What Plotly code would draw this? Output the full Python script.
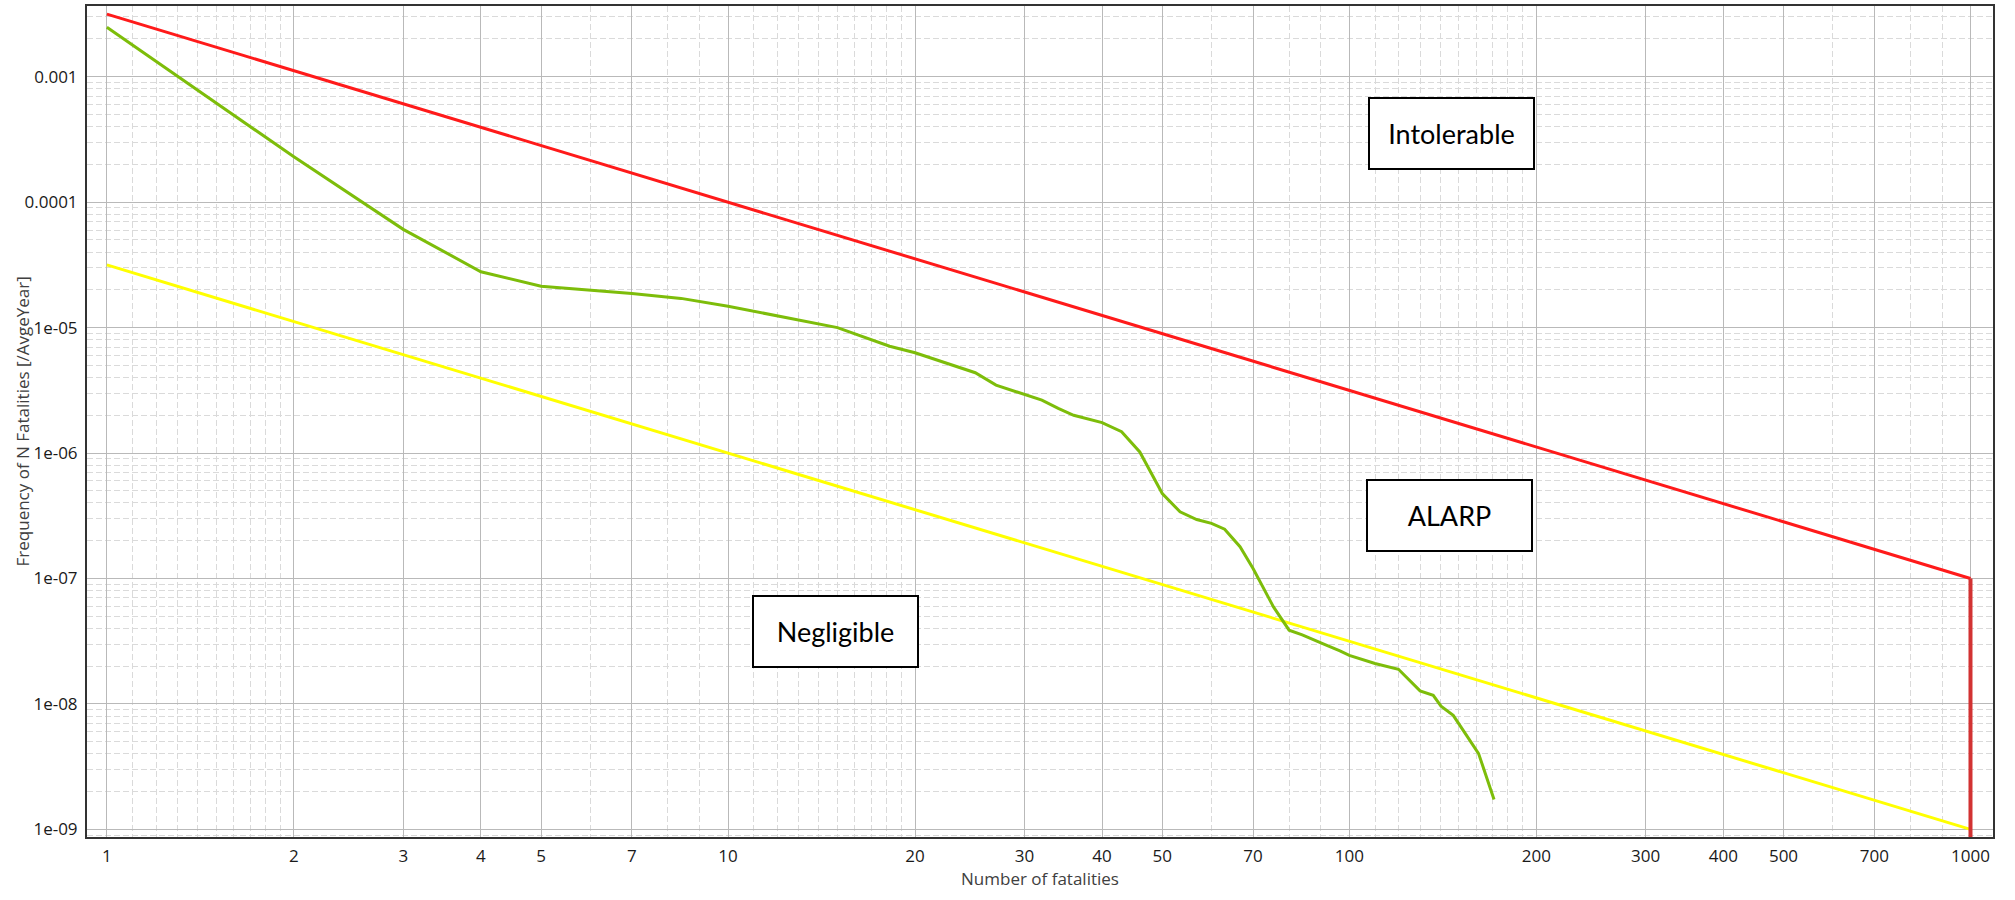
import plotly.graph_objects as go
import numpy as np

# ---- data ----
criteria_N = [1, 1000]
intolerable_F = [3.16e-3, 1e-7]
negligible_F = [3.16e-5, 1e-9]
cutoff_N = [1000, 1000]
cutoff_F = [1e-7, 1e-10]

fn_N = [1, 2, 3, 4, 5, 7, 8.4, 10, 15, 18.2, 20, 25, 27, 30, 32, 34, 36, 40, 43, 46,
        50, 53.4, 56.8, 60, 63, 66.7, 70, 75.5, 80, 84, 88, 91, 96.6, 100, 110, 120,
        130, 136.5, 140.5, 147, 155, 161.5, 171]
fn_F = [2.48e-3, 2.3e-4, 6.07e-5, 2.79e-5, 2.14e-5, 1.87e-5, 1.71e-5, 1.48e-5, 1.0e-5,
        7.1e-6, 6.3e-6, 4.37e-6, 3.48e-6, 2.93e-6, 2.64e-6, 2.27e-6, 2.0e-6, 1.75e-6,
        1.48e-6, 1.02e-6, 4.76e-7, 3.4e-7, 2.95e-7, 2.75e-7, 2.47e-7, 1.79e-7, 1.2e-7,
        5.94e-8, 3.87e-8, 3.55e-8, 3.2e-8, 3.0e-8, 2.65e-8, 2.44e-8, 2.1e-8, 1.89e-8,
        1.27e-8, 1.17e-8, 9.6e-9, 8.1e-9, 5.46e-9, 4.02e-9, 1.73e-9]

x_ticks = [1, 2, 3, 4, 5, 7, 10, 20, 30, 40, 50, 70, 100, 200, 300, 400, 500, 700, 1000]
x_minor = [1.1, 1.2, 1.3, 1.4, 1.5, 1.6, 1.7, 1.8, 1.9, 6, 8, 9,
           11, 12, 13, 14, 15, 16, 17, 18, 19, 60, 80, 90,
           110, 120, 130, 140, 150, 160, 170, 180, 190, 600, 800, 900]
y_ticks = [1e-9, 1e-8, 1e-7, 1e-6, 1e-5, 1e-4, 1e-3]
y_ticktext = ["1e-09", "1e-08", "1e-07", "1e-06", "1e-05", "0.0001", "0.001"]
y_minor = [k * 10.0 ** e for e in range(-10, -2) for k in range(2, 10)]

region_labels = ["Intolerable", "ALARP", "Negligible"]
x_title = "Number of fatalities"
y_title = "Frequency of N Fatalities [/AvgeYear]"

# ---- figure ----
fig = go.Figure()
fig.add_trace(go.Scatter(x=criteria_N, y=negligible_F, mode="lines",
                         line=dict(color="#ffff00", width=3), showlegend=False))
fig.add_trace(go.Scatter(x=criteria_N, y=intolerable_F, mode="lines",
                         line=dict(color="#ff1a1a", width=3), showlegend=False))
fig.add_trace(go.Scatter(x=cutoff_N, y=cutoff_F, mode="lines",
                         line=dict(color="#d23232", width=4), showlegend=False))
fig.add_trace(go.Scatter(x=fn_N, y=fn_F, mode="lines",
                         line=dict(color="#7dbd0a", width=3), showlegend=False))

box_pos = {"Intolerable": (0.7159, 0.8466), "ALARP": (0.7148, 0.3869),
           "Negligible": (0.3927, 0.2467)}
for lab in region_labels:
    px, py = box_pos[lab]
    fig.add_annotation(x=px, y=py, xref="paper", yref="paper", text=lab,
                       showarrow=False, xanchor="center", yanchor="middle",
                       font=dict(family="Lato", size=27, color="#000000"),
                       bgcolor="white", bordercolor="#000000", borderwidth=2,
                       borderpad=0, width=163, height=69)

grid_major = "rgb(185,185,185)"
grid_minor = "rgb(218,218,218)"
tickfont = dict(family="Open Sans", size=17, color="#1a1a1a")
titlefont = dict(family="Open Sans", size=17, color="#404040")

# y-axis title as rotated annotation for exact placement
fig.add_annotation(x=-0.0336, y=0.5, xref="paper", yref="paper", text=y_title,
                   textangle=-90, showarrow=False, xanchor="center", yanchor="middle",
                   font=titlefont)

fig.update_xaxes(type="log", range=[np.log10(0.929), np.log10(1087)], automargin=False,
                 tickmode="array", tickvals=x_ticks, ticktext=[str(v) for v in x_ticks],
                 showgrid=True, gridcolor=grid_major, gridwidth=1,
                 minor=dict(tickvals=x_minor, showgrid=True, gridcolor=grid_minor,
                            griddash="6px,3px", gridwidth=1, ticks=""),
                 showline=True, mirror=True, linecolor="#333333", linewidth=2,
                 ticks="", ticklabelstandoff=3, tickfont=tickfont,
                 title=dict(text=x_title, standoff=2, font=titlefont))
fig.update_yaxes(type="log", range=[-9.061, -2.436], automargin=False,
                 tickmode="array", tickvals=y_ticks, ticktext=y_ticktext,
                 showgrid=True, gridcolor=grid_major, gridwidth=1,
                 minor=dict(tickvals=y_minor, showgrid=True, gridcolor=grid_minor,
                            griddash="6px,3px", gridwidth=1, ticks=""),
                 showline=True, mirror=True, linecolor="#333333", linewidth=2,
                 ticks="", ticklabelstandoff=4, tickfont=tickfont)

fig.update_layout(width=2015, height=900, margin=dict(l=87, r=22, t=6, b=63),
                  plot_bgcolor="white", paper_bgcolor="white", showlegend=False)

fig.write_html("out.html", config={"displayModeBar": False},
               post_script="document.body.style.margin='0';")
